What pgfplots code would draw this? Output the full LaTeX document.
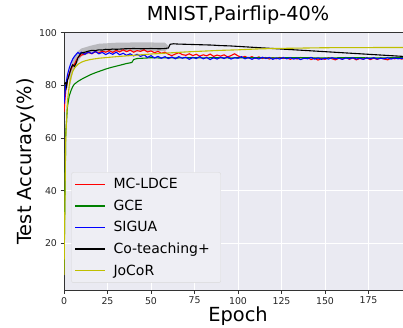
\documentclass[border=0pt]{standalone}
\usepackage{fontspec}
\setmainfont{DejaVu Sans}
\usepackage{pgfplots}
\pgfplotsset{compat=1.18}
\usepgfplotslibrary{fillbetween}
\definecolor{bg}{HTML}{EAEAF2}
\definecolor{legbg}{HTML}{EEEEF4}
\definecolor{myyellow}{rgb}{0.75,0.75,0}
\definecolor{mygreen}{rgb}{0,0.5,0}
\definecolor{myblue}{rgb}{0,0,1}
\definecolor{myred}{rgb}{1,0,0}
\definecolor{spine}{HTML}{333333}
\begin{document}
\begin{tikzpicture}
\begin{axis}[
  scale only axis, width=348pt, height=257.3pt,
  xmin=0, xmax=200, ymin=2.3, ymax=100,
  axis background/.style={fill=bg},
  grid=major, major grid style={white, line width=0.9pt},
  axis line style={spine, line width=0.9pt},
  xtick={0,25,...,175}, ytick={20,40,60,80,100},
  tick align=outside, tick pos=left, major tick length=3.5pt,
  tick style={spine, line width=0.7pt},
  ticklabel style={font=\fontsize{9.4}{10}\selectfont, text=black!85},
  /pgf/number format/assume math mode=true,
  title={MNIST,Pairflip-40\%},
  title style={font=\fontsize{19.3}{22}\selectfont, at={(axis description cs:0.5,1.0233)}, anchor=base},
  xlabel={Epoch},
  xlabel style={font=\fontsize{19.4}{22}\selectfont, at={(axis description cs:0.5,-0.1232)}, anchor=base},
  ylabel={Test Accuracy(\%)},
  ylabel style={font=\fontsize{19.4}{22}\selectfont, at={(axis description cs:-0.0948,0.5)}, anchor=base, rotate=0},
  legend cell align=left,
  legend image code/.code={\fill[#1, draw=none, rounded corners=0pt] (0pt,-0.65pt) rectangle (30pt,0.65pt);},
  legend style={at={(axis description cs:0.021,0.028)}, anchor=south west,
    font=\fontsize{14}{16}\selectfont, fill=legbg,
    draw=gray!30, rounded corners=2pt, row sep=5.6pt, inner xsep=3pt, inner ysep=4pt,
    nodes={fill=none, draw=none},
    /tikz/every odd column/.append style={column sep=7pt}},
]
\addlegendimage{color=myred}
\addlegendentry{MC-LDCE\hspace*{6pt}}
\addlegendimage{color=mygreen}
\addlegendentry{GCE}
\addlegendimage{color=myblue}
\addlegendentry{SIGUA}
\addlegendimage{color=black}
\addlegendentry{Co-teaching+\hspace*{6pt}}
\addlegendimage{color=myyellow}
\addlegendentry{JoCoR}
% std band around Co-teaching+
\addplot[name path=up, draw=none, forget plot] coordinates {
(3,84)(5,90)(8,93)(10,94)(15,95)(20,95.8)(25,96)(30,96.2)(40,96.3)(50,96.3)(58,96.2)(60,95)};
\addplot[name path=lo, draw=none, forget plot] coordinates {
(3,78)(5,85)(8,89)(10,91)(15,92.2)(20,92.5)(30,92.8)(40,93)(50,93)(58,93)(60,94)};
\addplot[gray, opacity=0.45, forget plot] fill between[of=up and lo];

% MC-LDCE
\addplot[myred, line width=1.1pt, forget plot] coordinates {
(0,70)(1,78)(2,82)(3,84.5)(4,86)(5,87.5)(6,88)(7,89.5)(8,90.5)(9,91)(10,91.5)(12,92)(14,92.5)(16,92)(18,92.8)(20,92.3)(22,93)(24,92.6)(26,93.2)(28,92.5)(30,93.3)(32,92.7)(34,93.5)(36,92.8)(38,93.4)(40,92.6)(42,93.2)(44,92.9)(46,93.5)(48,92.7)(50,93.1)(52,92.4)(54,92.9)(56,92.2)(58,92.6)(60,91.8)(62,91.3)(64,91.9)(66,92.4)(68,91.7)(70,91.4)(72,92.0)(74,91.3)(76,91.8)(78,91.1)(80,91.6)(82,91.2)(84,91.9)(86,91.0)(88,91.5)(90,91.1)(92,91.6)(94,90.8)(96,91.3)(98,92.0)(100,91.2)(102,90.6)(104,91.0)(106,90.4)(108,90.9)(110,90.3)(112,90.8)(114,90.2)(116,90.6)(118,90.0)(120,90.5)(122,90.1)(124,90.6)(126,90.2)(128,90.5)(130,89.9)(132,90.4)(134,90.0)(136,90.6)(138,90.2)(140,90.5)(142,89.8)(144,90.3)(146,89.6)(148,90.2)(150,89.9)(152,90.5)(154,90.1)(156,89.7)(158,90.3)(160,90.0)(162,90.6)(164,89.9)(166,90.4)(168,89.7)(170,90.2)(172,90.0)(174,90.5)(176,89.8)(178,90.3)(180,89.9)(182,90.4)(184,90.0)(186,89.7)(188,90.3)(190,90.1)(192,90.4)(194,90.0)(196,90.3)(198,90.1)};
% GCE
\addplot[mygreen, line width=1.1pt, forget plot] coordinates {
(0,10)(1,62)(2,72)(3,76)(4,78)(5,79.5)(6,80.5)(8,81.5)(10,82.3)(12,83)(15,84)(18,84.8)(21,85.5)(24,86.2)(27,86.8)(30,87.3)(33,87.8)(36,88.3)(39,88.7)(40,89.8)(42,90.2)(45,90.3)(50,90.5)(55,90.4)(60,90.5)(65,90.4)(70,90.5)(75,90.5)(80,90.4)(85,90.5)(90,90.5)(95,90.4)(100,90.5)(110,90.5)(120,90.4)(130,90.5)(140,90.5)(150,90.4)(160,90.5)(170,90.5)(180,90.4)(190,90.5)(199,90.5)};
% SIGUA
\addplot[myblue, line width=1.1pt, forget plot] coordinates {
(0,73)(1,80)(2,84)(3,86.5)(4,88.5)(5,90)(6,91)(7,91.8)(8,92.5)(9,92)(10,92.6)(12,91.8)(14,92.7)(16,92.1)(18,92.9)(20,92.0)(22,92.5)(24,91.7)(26,92.4)(28,91.8)(30,92.6)(32,91.6)(34,92.2)(36,91.4)(38,92.0)(40,91.2)(42,91.8)(44,91.0)(46,91.6)(48,90.6)(50,91.3)(52,90.4)(54,91.0)(56,90.3)(58,90.9)(60,90.2)(62,90.8)(64,90.1)(66,90.9)(68,90.3)(70,90.7)(72,89.9)(74,90.6)(76,90.2)(78,90.9)(80,90.1)(82,90.6)(84,89.8)(86,90.5)(88,90.0)(90,90.7)(92,90.2)(94,90.8)(96,90.0)(98,90.5)(100,90.3)(102,90.9)(104,90.1)(106,90.6)(108,89.9)(110,90.5)(112,90.0)(114,90.7)(116,90.2)(118,90.6)(120,89.9)(122,90.4)(124,90.0)(126,90.6)(128,90.1)(130,90.5)(132,90.0)(134,90.4)(136,89.8)(138,90.3)(140,90.1)(142,90.6)(144,90.0)(146,90.4)(148,89.9)(150,90.3)(152,90.0)(154,90.5)(156,90.1)(158,90.3)(160,89.9)(162,90.4)(164,90.1)(166,90.5)(168,90.0)(170,90.3)(172,89.9)(174,90.4)(176,90.1)(178,90.5)(180,90.0)(182,90.3)(184,90.1)(186,90.5)(188,90.0)(190,90.4)(192,90.1)(194,90.3)(196,90.0)(198,90.3)};
% Co-teaching+
\addplot[black, line width=1.1pt, forget plot] coordinates {
(0,80.5)(1,81)(1.5,79.5)(2,82)(3,84)(4,86.5)(5,87.8)(6,87.2)(7,88.5)(8,90.5)(9,91.5)(10,92.3)(12,92.6)(14,93.0)(16,93.3)(18,93.2)(20,93.5)(22,93.4)(24,93.7)(26,93.6)(28,93.8)(30,93.7)(35,93.9)(40,94.0)(45,93.9)(50,94.0)(55,93.9)(58,94.0)(60,94.2)(61,95.6)(63,95.8)(65,95.7)(70,95.6)(75,95.5)(80,95.4)(85,95.3)(90,95.1)(95,95.0)(100,94.8)(105,94.6)(110,94.4)(115,94.2)(120,94.0)(125,93.8)(130,93.6)(135,93.4)(140,93.2)(145,93.0)(150,92.8)(155,92.6)(160,92.4)(165,92.2)(170,92.0)(175,91.8)(180,91.6)(185,91.4)(190,91.2)(195,91.0)(199,90.9)};
% JoCoR
\addplot[myyellow, line width=1.1pt, forget plot] coordinates {
(0,8)(1,60)(2,74)(3,80)(4,83)(5,85.3)(6,86.5)(7,87.3)(8,88)(10,88.8)(12,89.3)(15,89.8)(20,90.3)(25,90.6)(30,90.9)(40,91.4)(50,91.9)(60,92.3)(70,92.7)(80,93.0)(90,93.3)(100,93.5)(110,93.8)(120,94.0)(130,94.1)(140,94.2)(150,94.3)(170,94.35)(199,94.4)};
\end{axis}
\pgfresetboundingbox
\path[use as bounding box] ([xshift=-64pt,yshift=-37pt]current axis.south west) rectangle ++(403pt,327pt);
\end{tikzpicture}
\end{document}
